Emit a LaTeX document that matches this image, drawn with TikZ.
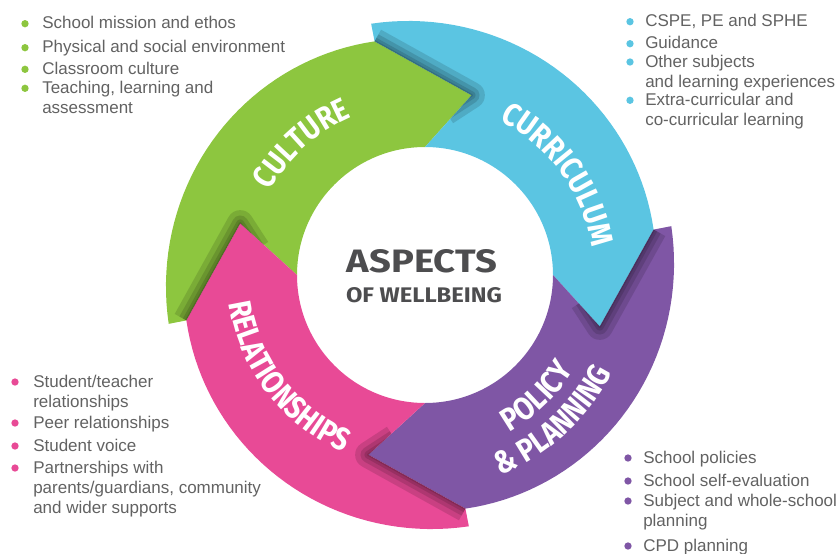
\documentclass[tikz,border=0pt]{standalone}
\usepackage{fontspec}
\usepackage{graphicx}
\setmainfont{Liberation Sans}
\newfontfamily\ringfont[FakeStretch=0.86]{Fira Sans}
\usetikzlibrary{decorations.text}

\definecolor{culgreen}{RGB}{141,198,63}
\definecolor{curblue}{RGB}{91,197,226}
\definecolor{polpurple}{RGB}{127,86,165}
\definecolor{relpink}{RGB}{232,74,150}
\definecolor{txtgray}{RGB}{98,98,98}
\definecolor{hubgray}{RGB}{77,77,79}

\def\ringfmt{\color{white}\ringfont\bfseries\fontsize{24}{24}\selectfont}
% one arrow of the ring, tail boundary at angle #1, head at #1-90
\def\segpath#1{(#1+11:256) -- plot[domain=#1+11:#1-79, samples=40] (\x:{256-18*(#1+11-\x)/90})
  -- (#1-106:187) -- ([shift={(5,0)}]#1-90:128) arc[start angle=#1-90, end angle=#1, radius=128]
  -- (#1-16:187) -- (#1+11:238) -- cycle}

\tikzset{
  itemtext/.style={anchor=base west, inner sep=0pt, align=left, text=txtgray,
    font=\fontsize{12.75}{15}\selectfont},
  bulletdot/.style={circle, fill=#1, inner sep=0pt, minimum size=5.5pt},
  headshadow/.style={draw=black, draw opacity=0.13, line width=#1, line join=round},
  ringtext/.style={decorate, decoration={text along path, text align=center, text={#1}}},
  hub/.style={inner sep=0pt, text=hubgray, font=\ringfont\bfseries},
}

\begin{document}
\begin{tikzpicture}[x=0.75pt,y=0.75pt,yscale=-1,xscale=1]
	\useasboundingbox (0,0) rectangle (840,554);
	% ring
	\begin{scope}[shift={(420,275)},yscale=-1]
	\foreach \ts/\col in {180/culgreen, 90/curblue, 0/polpurple, -90/relpink}
		\fill[\col] \segpath{\ts};
	\foreach \tb in {90,0,-90,180}{
		\begin{scope}
		\clip \segpath{\tb};
		\draw[headshadow=20] (\tb+11:238) -- (\tb-16:187) -- (\tb-9:165);
		\draw[headshadow=12] (\tb+11:238) -- (\tb-16:187) -- (\tb-9:165);
		\draw[headshadow=6] (\tb+11:238) -- (\tb-16:187) -- (\tb-9:165);
		\draw[headshadow=2] (\tb+11:238) -- (\tb-16:187) -- (\tb-9:165);
		\end{scope}
	}
	\path[ringtext={|\ringfmt|CULTURE}] (182:172) arc[start angle=182, end angle=82, radius=172];
	\path[ringtext={|\ringfmt|CURRICULUM}] (86:174) arc[start angle=86, end angle=-14, radius=174];
	\path[ringtext={|\ringfmt|RELATIONSHIPS}] (167:193) arc[start angle=167, end angle=268, radius=193];
	\path[ringtext={|\ringfmt|POLICY}] (-96:181) arc[start angle=-96, end angle=4, radius=181];
	\path[ringtext={|\ringfmt|{\&} PLANNING}] (-97.5:216) arc[start angle=-97.5, end angle=2.5, radius=216];
	\end{scope}
	% centre
	\node[hub] (aspects) at (422,261.5) {\resizebox{112.5pt}{17.25pt}{ASPECTS}};
	\node[hub] (wellbeing) at (424,295) {\resizebox{117pt}{11.25pt}{OF WELLBEING}};
	% lists (y = first baseline, n = extra lines)
	\foreach \y/\n/\t [count=\i] in {28.7/0/School mission and ethos, 52.7/0/Physical and social environment,
		74.3/0/Classroom culture, 93.3/1/{Teaching, learning and\\assessment}}{
		\node[bulletdot=culgreen] (culdot\i) at (25,\y-5) {};
		\node[itemtext] (cul\i) at (42,\y+20*\n) {\t};
	}
	\foreach \y/\n/\t [count=\i] in {26.7/0/{CSPE, PE and SPHE}, 48.7/0/Guidance,
		67/1/{Other subjects\\and learning experiences}, 105.3/1/{Extra-curricular and\\co-curricular learning}}{
		\node[bulletdot=curblue] (curdot\i) at (630,\y-5) {};
		\node[itemtext] (cur\i) at (645,\y+20*\n) {\t};
	}
	\foreach \y/\n/\t [count=\i] in {387/1/{Student/teacher\\relationships}, 428/0/Peer relationships,
		451/0/Student voice, 473/2/{Partnerships with\\parents/guardians, community\\and wider supports}}{
		\node[bulletdot=relpink] (reldot\i) at (15,\y-5) {};
		\node[itemtext] (rel\i) at (33,\y+20*\n) {\t};
	}
	\foreach \y/\n/\t [count=\i] in {463/0/School policies, 486/0/School self-evaluation,
		506/1/{Subject and whole-school\\planning}, 551/0/CPD planning}{
		\node[bulletdot=polpurple] (poldot\i) at (628,\y-5) {};
		\node[itemtext] (pol\i) at (643,\y+20*\n) {\t};
	}
\end{tikzpicture}
\end{document}
